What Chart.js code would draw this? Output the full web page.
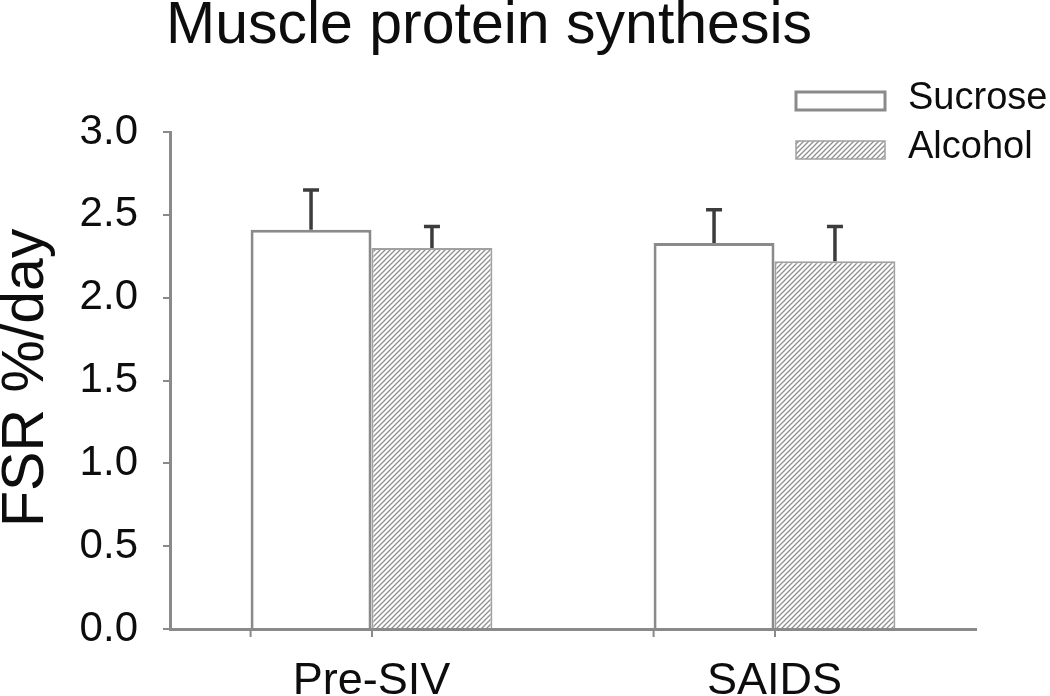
<!DOCTYPE html>
<html lang="en">
<head>
    <meta charset="UTF-8">
    <title>Muscle protein synthesis</title>
    <script src="https://cdn.jsdelivr.net/npm/chart.js"></script>
    <style>
        html, body { margin: 0; padding: 0; background: #fff; }
        #wrap { width: 1050px; height: 696px; }
    </style>
</head>
<body>
    <div id="wrap"><canvas id="fsrChart" width="1050" height="696"></canvas></div>

    <script>
        // values
        const groups = ["Pre-SIV", "SAIDS"];
        const sucrose = [2.41, 2.33];
        const alcohol = [2.30, 2.22];
        const sucroseSem = [0.24, 0.20];
        const alcoholSem = [0.13, 0.21];
        const yTicks = [0, 0.5, 1.0, 1.5, 2.0, 2.5, 3.0];

        const font = "'Liberation Sans', Arial, sans-serif";
        const axisGrey = "#8a8a8a";
        const ink = "#0d0d0d";

        // diagonal hatch for the alcohol bars
        function makeHatch() {
            const c = document.createElement("canvas");
            c.width = 5; c.height = 5;
            const g = c.getContext("2d");
            g.fillStyle = "#fff";
            g.fillRect(0, 0, 5, 5);
            g.strokeStyle = "#8f8f8f";
            g.lineWidth = 1.3;
            g.beginPath();
            g.moveTo(0, 5); g.lineTo(5, 0);
            g.moveTo(-1, 1); g.lineTo(1, -1);
            g.moveTo(4, 6); g.lineTo(6, 4);
            g.stroke();
            return g.createPattern(c, "repeat");
        }
        const hatch = makeHatch();

        // error bars (upper half only), x-axis extra ticks, title, y label, legend
        const extras = {
            id: "extras",
            afterDatasetsDraw(chart) {
                const ctx = chart.ctx;
                const y = chart.scales.y;
                const sems = [sucroseSem, alcoholSem];
                ctx.save();
                ctx.strokeStyle = "#3c3c3c";
                ctx.lineWidth = 3.5;
                chart.data.datasets.forEach((ds, i) => {
                    chart.getDatasetMeta(i).data.forEach((bar, j) => {
                        const top = y.getPixelForValue(ds.data[j] + sems[i][j]);
                        ctx.beginPath();
                        ctx.moveTo(bar.x, bar.y);
                        ctx.lineTo(bar.x, top);
                        ctx.moveTo(bar.x - 8, top);
                        ctx.lineTo(bar.x + 8, top);
                        ctx.stroke();
                    });
                });
                // small ticks under the left edge of each group
                const base = chart.chartArea.bottom;
                ctx.strokeStyle = axisGrey;
                ctx.lineWidth = 2;
                chart.getDatasetMeta(0).data.forEach(bar => {
                    const left = bar.x - bar.width / 2;
                    ctx.beginPath();
                    ctx.moveTo(left, base);
                    ctx.lineTo(left, base + 8);
                    ctx.stroke();
                });
                ctx.restore();
            },
            afterDraw(chart) {
                const ctx = chart.ctx;
                ctx.save();
                ctx.fillStyle = ink;

                // title
                ctx.font = "59px " + font;
                ctx.textAlign = "left";
                ctx.textBaseline = "alphabetic";
                ctx.fillText("Muscle protein synthesis", 166, 43);

                // y axis title
                ctx.save();
                ctx.translate(43, 527);
                ctx.rotate(-Math.PI / 2);
                ctx.font = "59px " + font;
                ctx.fillText("FSR %/day", 0, 0);
                ctx.restore();

                // legend
                const items = [
                    { label: "Sucrose", fill: "#fff", stroke: axisGrey, w: 3, y: 101, ty: 99 },
                    { label: "Alcohol", fill: hatch, stroke: "#a0a0a0", w: 1.5, y: 150, ty: 148 }
                ];
                ctx.font = "38px " + font;
                ctx.textBaseline = "middle";
                items.forEach(it => {
                    ctx.fillStyle = it.fill;
                    ctx.fillRect(796, it.y - 9, 89, 18);
                    ctx.strokeStyle = it.stroke;
                    ctx.lineWidth = it.w;
                    ctx.strokeRect(796, it.y - 9, 89, 18);
                    ctx.fillStyle = ink;
                    ctx.fillText(it.label, 908, it.ty);
                });
                ctx.restore();
            }
        };

        const ctx = document.getElementById("fsrChart").getContext("2d");
        new Chart(ctx, {
            type: "bar",
            data: {
                labels: groups,
                datasets: [
                    {
                        label: "Sucrose",
                        data: sucrose,
                        backgroundColor: "#fff",
                        borderColor: axisGrey,
                        borderWidth: 3
                    },
                    {
                        label: "Alcohol",
                        data: alcohol,
                        backgroundColor: hatch,
                        borderColor: "#a0a0a0",
                        borderWidth: 2
                    }
                ]
            },
            options: {
                responsive: false,
                animation: false,
                devicePixelRatio: 1,
                layout: { padding: { top: 132, right: 74, left: 0, bottom: 0 } },
                datasets: { bar: { categoryPercentage: 0.6, barPercentage: 1.0 } },
                plugins: {
                    legend: { display: false },
                    title: { display: false },
                    tooltip: { enabled: false }
                },
                scales: {
                    x: {
                        afterFit(scale) { scale.height = 67; },
                        grid: {
                            offset: false,
                            drawOnChartArea: false,
                            tickLength: 8,
                            color: axisGrey,
                            lineWidth: 2
                        },
                        border: { color: axisGrey, width: 3 },
                        ticks: {
                            color: ink,
                            padding: 18,
                            font: { family: font, size: 45 }
                        }
                    },
                    y: {
                        min: 0,
                        max: 3,
                        afterFit(scale) { scale.width = 170; },
                        afterBuildTicks(scale) {
                            scale.ticks = yTicks.map(v => ({ value: v }));
                        },
                        grid: {
                            drawOnChartArea: false,
                            tickLength: 7,
                            color: axisGrey,
                            lineWidth: 2
                        },
                        border: { color: axisGrey, width: 3 },
                        ticks: {
                            color: ink,
                            padding: 25,
                            font: { family: font, size: 42 },
                            callback: v => v.toFixed(1)
                        }
                    }
                }
            },
            plugins: [extras]
        });
    </script>
</body>
</html>
